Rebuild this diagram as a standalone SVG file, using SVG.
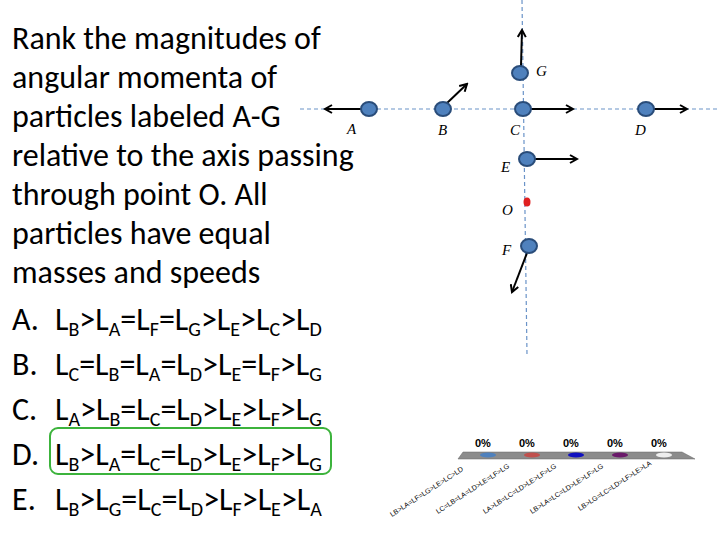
<svg xmlns="http://www.w3.org/2000/svg" width="720" height="540" viewBox="0 0 720 540">
<style>
.t{font-family:Carlito,"Open Sans","Liberation Sans",sans-serif;font-size:32px;fill:#000}
.s{font-size:20px}
.lb{font-family:"Liberation Serif",serif;font-style:italic;font-size:15px}
.ax{stroke:#6a93c8;stroke-width:1.2;stroke-dasharray:4,3;fill:none}
.p{fill:#4f81bd;stroke:#2a4d7a;stroke-width:2}
.ar{stroke:#000;stroke-width:2;fill:none;marker-end:url(#h)}
.pc{font-family:"Liberation Sans",sans-serif;font-weight:bold;font-size:11px}
.sm{font-family:"Liberation Sans",sans-serif;font-size:7px}
</style>
<defs><marker id="h" markerWidth="10" markerHeight="10" refX="8" refY="5" orient="auto" markerUnits="userSpaceOnUse"><path d="M1,1 L8,5 L1,9" fill="none" stroke="#000" stroke-width="2"/></marker></defs>
<rect width="720" height="540" fill="#fff"/>
<g id="text" class="t">
<text x="12" y="49">Rank the magnitudes of</text>
<text x="12" y="88">angular momenta of</text>
<text x="12" y="127">particles labeled A-G</text>
<text x="12" y="166">relative to the axis passing</text>
<text x="12" y="205">through point O. All</text>
<text x="12" y="244">particles have equal</text>
<text x="12" y="283">masses and speeds</text>
<text x="12" y="330">A.</text><text x="55" y="330">L<tspan class="s" dy="6">B</tspan><tspan dy="-6">&gt;L</tspan><tspan class="s" dy="6">A</tspan><tspan dy="-6">=L</tspan><tspan class="s" dy="6">F</tspan><tspan dy="-6">=L</tspan><tspan class="s" dy="6">G</tspan><tspan dy="-6">&gt;L</tspan><tspan class="s" dy="6">E</tspan><tspan dy="-6">&gt;L</tspan><tspan class="s" dy="6">C</tspan><tspan dy="-6">&gt;L</tspan><tspan class="s" dy="6">D</tspan></text>
<text x="12" y="375">B.</text><text x="55" y="375">L<tspan class="s" dy="6">C</tspan><tspan dy="-6">=L</tspan><tspan class="s" dy="6">B</tspan><tspan dy="-6">=L</tspan><tspan class="s" dy="6">A</tspan><tspan dy="-6">=L</tspan><tspan class="s" dy="6">D</tspan><tspan dy="-6">&gt;L</tspan><tspan class="s" dy="6">E</tspan><tspan dy="-6">=L</tspan><tspan class="s" dy="6">F</tspan><tspan dy="-6">&gt;L</tspan><tspan class="s" dy="6">G</tspan></text>
<text x="12" y="420">C.</text><text x="55" y="420">L<tspan class="s" dy="6">A</tspan><tspan dy="-6">&gt;L</tspan><tspan class="s" dy="6">B</tspan><tspan dy="-6">=L</tspan><tspan class="s" dy="6">C</tspan><tspan dy="-6">=L</tspan><tspan class="s" dy="6">D</tspan><tspan dy="-6">&gt;L</tspan><tspan class="s" dy="6">E</tspan><tspan dy="-6">&gt;L</tspan><tspan class="s" dy="6">F</tspan><tspan dy="-6">&gt;L</tspan><tspan class="s" dy="6">G</tspan></text>
<text x="12" y="465">D.</text><text x="55" y="465">L<tspan class="s" dy="6">B</tspan><tspan dy="-6">&gt;L</tspan><tspan class="s" dy="6">A</tspan><tspan dy="-6">=L</tspan><tspan class="s" dy="6">C</tspan><tspan dy="-6">=L</tspan><tspan class="s" dy="6">D</tspan><tspan dy="-6">&gt;L</tspan><tspan class="s" dy="6">E</tspan><tspan dy="-6">&gt;L</tspan><tspan class="s" dy="6">F</tspan><tspan dy="-6">&gt;L</tspan><tspan class="s" dy="6">G</tspan></text>
<text x="12" y="510">E.</text><text x="55" y="510">L<tspan class="s" dy="6">B</tspan><tspan dy="-6">&gt;L</tspan><tspan class="s" dy="6">G</tspan><tspan dy="-6">=L</tspan><tspan class="s" dy="6">C</tspan><tspan dy="-6">=L</tspan><tspan class="s" dy="6">D</tspan><tspan dy="-6">&gt;L</tspan><tspan class="s" dy="6">F</tspan><tspan dy="-6">&gt;L</tspan><tspan class="s" dy="6">E</tspan><tspan dy="-6">&gt;L</tspan><tspan class="s" dy="6">A</tspan></text>
</g>
<rect id="highlight" x="50" y="428" width="281" height="46" rx="8" fill="none" stroke="#3cb33c" stroke-width="2"/>
<g id="axes">
<line class="ax" x1="300" y1="109" x2="720" y2="109"/>
<line class="ax" x1="522" y1="0" x2="527" y2="355"/>
</g>
<g id="connectors">
<line class="ar" x1="361" y1="109" x2="325" y2="109"/>
<line class="ar" x1="446" y1="104" x2="467" y2="84"/>
<line class="ar" x1="531" y1="109" x2="573" y2="109"/>
<line class="ar" x1="654" y1="109" x2="687" y2="109"/>
<line class="ar" x1="521" y1="66" x2="522" y2="30"/>
<line class="ar" x1="535" y1="159" x2="577" y2="159"/>
<line class="ar" x1="527" y1="253" x2="512" y2="292"/>
</g>
<g id="A"><ellipse class="p" cx="369" cy="109" rx="8" ry="7"/><text class="lb" x="347" y="134">A</text></g>
<g id="B"><ellipse class="p" cx="443" cy="109" rx="8" ry="7"/><text class="lb" x="438" y="135">B</text></g>
<g id="C"><ellipse class="p" cx="523" cy="109" rx="8" ry="7"/><text class="lb" x="510" y="135">C</text></g>
<g id="D"><ellipse class="p" cx="646" cy="109" rx="8" ry="7"/><text class="lb" x="635" y="135">D</text></g>
<g id="G"><ellipse class="p" cx="520" cy="73" rx="8" ry="7"/><text class="lb" x="536" y="76">G</text></g>
<g id="E"><ellipse class="p" cx="527" cy="159" rx="8" ry="7"/><text class="lb" x="501" y="172">E</text></g>
<g id="O"><ellipse cx="527" cy="202" rx="3.5" ry="4.5" fill="#e02020"/><text class="lb" x="502" y="215" font-size="18">O</text></g>
<g id="F"><ellipse class="p" cx="529" cy="246" rx="8" ry="7"/><text class="lb" x="502" y="255">F</text></g>
<g id="chart">
<polygon points="463,452 682,452 695,459 458,459" fill="#8c8c8c" stroke="#666" stroke-width="0.5"/>
<ellipse cx="488" cy="455" rx="8" ry="2.5" fill="#4f81bd"/>
<ellipse cx="532" cy="455" rx="8" ry="2.5" fill="#c0504d"/>
<ellipse cx="576" cy="455" rx="8" ry="2.5" fill="#1010c0"/>
<ellipse cx="620" cy="455" rx="8" ry="2.5" fill="#6a1a6a"/>
<ellipse cx="664" cy="455" rx="8" ry="2.5" fill="#eee"/>
<text class="pc" x="475" y="447">0%</text>
<text class="pc" x="519" y="447">0%</text>
<text class="pc" x="563" y="447">0%</text>
<text class="pc" x="607" y="447">0%</text>
<text class="pc" x="651" y="447">0%</text>
<text class="sm" transform="translate(392,517) rotate(-33)">LB&gt;LA=LF=LG&gt;LE&gt;LC&gt;LD</text>
<text class="sm" transform="translate(438,514) rotate(-33)">LC=LB=LA=LD&gt;LE=LF&gt;LG</text>
<text class="sm" transform="translate(485,514) rotate(-33)">LA&gt;LB=LC=LD&gt;LE&gt;LF&gt;LG</text>
<text class="sm" transform="translate(532,514) rotate(-33)">LB&gt;LA=LC=LD&gt;LE&gt;LF&gt;LG</text>
<text class="sm" transform="translate(580,511) rotate(-33)">LB&gt;LG=LC=LD&gt;LF&gt;LE&gt;LA</text>
</g>
</svg>
